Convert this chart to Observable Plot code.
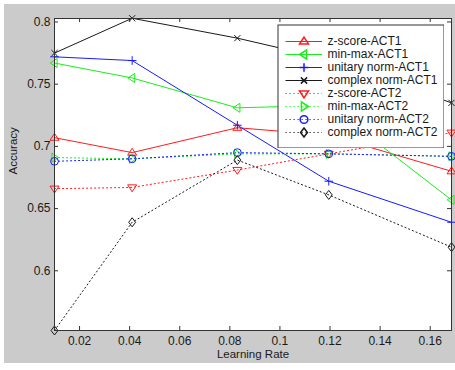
<!DOCTYPE html>
<html><head><meta charset="utf-8">
<script src="https://cdn.jsdelivr.net/npm/d3@7"></script>
<script src="https://cdn.jsdelivr.net/npm/@observablehq/plot@0.6"></script>
<style>
body{margin:0;background:#fff;}
#wrap{position:relative;width:455px;height:370px;}
#legend{position:absolute;left:277px;top:24px;}
</style></head><body><div id="wrap"></div>
<script>
// ---- data ----
const learningRates = [0.01, 0.041, 0.083, 0.1195, 0.1685];
const seriesNames = ["z-score-ACT1", "min-max-ACT1", "unitary norm-ACT1", "complex norm-ACT1",
                     "z-score-ACT2", "min-max-ACT2", "unitary norm-ACT2", "complex norm-ACT2"];
const zscoreAct1  = [0.707, 0.695, 0.715, 0.709, 0.680];
const minmaxAct1  = [0.767, 0.755, 0.731, 0.733, 0.657];
const unitaryAct1 = [0.772, 0.769, 0.717, 0.672, 0.639];
const complexAct1 = [0.775, 0.803, 0.787, 0.770, 0.735];
const zscoreAct2  = [0.666, 0.667, 0.681, 0.694, 0.711];
const minmaxAct2  = [0.691, 0.690, 0.694, 0.694, 0.692];
const unitaryAct2 = [0.688, 0.690, 0.695, 0.694, 0.692];
const complexAct2 = [0.552, 0.639, 0.689, 0.661, 0.619];
const seriesValues = [zscoreAct1, minmaxAct1, unitaryAct1, complexAct1, zscoreAct2, minmaxAct2, unitaryAct2, complexAct2];
const xTicks = [0.02, 0.04, 0.06, 0.08, 0.1, 0.12, 0.14, 0.16];
const yTicks = [0.6, 0.65, 0.7, 0.75, 0.8];

// ---- styles ----
const seriesColors = ["#ff1a1a", "#1aee1a", "#1a1aff", "#1a1a1a", "#ff1a1a", "#1aee1a", "#1a1aff", "#1a1a1a"];
const seriesDotted = [false, false, false, false, true, true, true, true];
const sym = (fn) => ({draw(c, size) { const s = Math.sqrt(size / Math.PI); fn(c, s); }});
const symbols = [
  sym((c, s) => { c.moveTo(0, -s); c.lineTo(s * 1.05, s * 0.6); c.lineTo(-s * 1.05, s * 0.6); c.closePath(); }),
  sym((c, s) => { c.moveTo(-s, 0); c.lineTo(s * 0.6, -s * 1.05); c.lineTo(s * 0.6, s * 1.05); c.closePath(); }),
  sym((c, s) => { c.moveTo(-s, 0); c.lineTo(s, 0); c.moveTo(0, -s); c.lineTo(0, s); }),
  sym((c, s) => { const k = s * 0.72; c.moveTo(-k, -k); c.lineTo(k, k); c.moveTo(-k, k); c.lineTo(k, -k); }),
  sym((c, s) => { c.moveTo(0, s); c.lineTo(s * 1.05, -s * 0.6); c.lineTo(-s * 1.05, -s * 0.6); c.closePath(); }),
  sym((c, s) => { c.moveTo(s, 0); c.lineTo(-s * 0.6, -s * 1.05); c.lineTo(-s * 0.6, s * 1.05); c.closePath(); }),
  sym((c, s) => { const r = s * 0.9; c.moveTo(r, 0); c.arc(0, 0, r, 0, 2 * Math.PI); }),
  sym((c, s) => { c.moveTo(0, -s * 1.05); c.lineTo(s * 0.8, 0); c.lineTo(0, s * 1.05); c.lineTo(-s * 0.8, 0); c.closePath(); })
];

const rows = seriesNames.flatMap((name, i) => learningRates.map((x, j) => ({series: name, x, y: seriesValues[i][j]})));

const W = 455, H = 370, mL = 54, mR = 4, mT = 18, mB = 40;
const frameW = W - mL - mR, frameH = H - mT - mB;
const axisColor = "#333";
const font = "'Liberation Sans', Arial, Helvetica, sans-serif";

const lineMarks = seriesNames.map((name, i) => Plot.line(rows.filter(d => d.series === name), {
  x: "x", y: "y", stroke: seriesColors[i], strokeWidth: 1,
  strokeDasharray: seriesDotted[i] ? "1.2,2.8" : null
}));
const dotMarks = seriesNames.map((name, i) => Plot.dot(rows.filter(d => d.series === name), {
  x: "x", y: "y", stroke: seriesColors[i], fill: "none", strokeWidth: 1, r: 4.3, symbol: symbols[i]
}));

const chart = Plot.plot({
  width: W, height: H,
  marginLeft: mL, marginRight: mR, marginTop: mT, marginBottom: mB,
  style: {fontFamily: font, fontSize: "12px", color: "#1a1a1a", background: "transparent", overflow: "visible"},
  x: {domain: [0.01, 0.1685], ticks: xTicks, tickSize: 0, tickPadding: 6, tickFormat: d => String(d), label: null},
  y: {domain: [0.552, 0.8028], ticks: yTicks, tickSize: 0, tickPadding: 4, tickFormat: d => String(d), label: null},
  marks: [
    Plot.frame({fill: "white", stroke: null}),
    ...lineMarks,
    ...dotMarks,
    Plot.tickX(xTicks, {x: d => d, stroke: axisColor, insetTop: frameH - 4}),
    Plot.tickX(xTicks, {x: d => d, stroke: axisColor, insetBottom: frameH - 4}),
    Plot.tickY(yTicks, {y: d => d, stroke: axisColor, insetRight: frameW - 4}),
    Plot.tickY(yTicks, {y: d => d, stroke: axisColor, insetLeft: frameW - 4}),
    Plot.frame({stroke: axisColor}),
    Plot.text(["Learning Rate"], {frameAnchor: "bottom", text: d => d, dy: 27, fontSize: 11.5}),
    Plot.text(["Accuracy"], {frameAnchor: "left", text: d => d, rotate: -90, dx: -41, fontSize: 11.5})
  ]
});

// gray figure background
const bg = document.createElementNS("http://www.w3.org/2000/svg", "rect");
bg.setAttribute("x", 4); bg.setAttribute("y", 4);
bg.setAttribute("width", W - 4); bg.setAttribute("height", 359);
bg.setAttribute("fill", "#cbcbcb");
chart.insertBefore(bg, chart.firstChild);

// legend
const legendRows = seriesNames.map((name, i) => ({series: name, i}));
const legend = Plot.plot({
  width: 167, height: 124, margin: 0,
  style: {fontFamily: font, fontSize: "12px", color: "#1a1a1a", background: "transparent"},
  x: {type: "identity", axis: null},
  y: {type: "point", domain: seriesNames, range: [10, 114.3], axis: null},
  marks: [
    Plot.frame({fill: "white", stroke: axisColor, inset: 0.5}),
    ...legendRows.map(r => Plot.ruleY([r.series], {
      y: d => d, x1: 8.5, x2: 45, stroke: seriesColors[r.i], strokeWidth: 1,
      strokeDasharray: seriesDotted[r.i] ? "1.2,2.8" : null
    })),
    ...legendRows.map(r => Plot.dot([r.series], {
      y: d => d, x: 26.5, stroke: seriesColors[r.i], fill: "none", r: 4.3, symbol: symbols[r.i]
    })),
    Plot.text(seriesNames, {y: d => d, x: 50, text: d => d, textAnchor: "start", fontSize: 12})
  ]
});
legend.id = "legend";

const wrap = document.getElementById("wrap");
wrap.appendChild(chart);
wrap.appendChild(legend);
</script></body></html>
